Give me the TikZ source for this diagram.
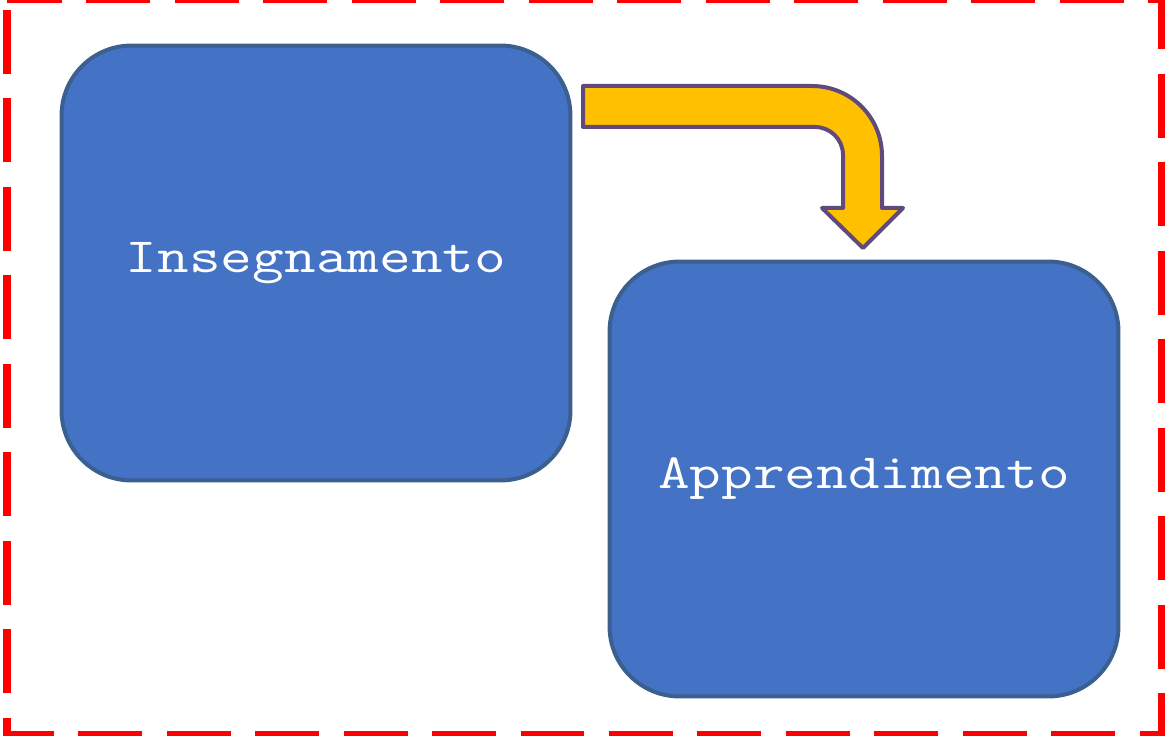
\documentclass[tikz,border=0pt]{standalone}
\usepackage{fontspec}
\usetikzlibrary{positioning, calc}

\definecolor{boxblue}{HTML}{4472C4}
\definecolor{boxline}{HTML}{3B5F8E}
\definecolor{arrowfill}{HTML}{FFC000}
\definecolor{arrowline}{HTML}{604A7B}

\newcommand{\widetext}[1]{\scalebox{1.25}[1]{#1}}

\begin{document}
\begin{tikzpicture}[
  x=0.02cm, y=-0.02cm,
  phase/.style={draw=boxline, fill=boxblue, line width=0.08cm, rounded corners=1.4cm,
                minimum width=10.18cm, minimum height=8.7cm,
                text=white, font=\ttfamily\fontsize{28}{34}\selectfont},
]
\useasboundingbox (0,0) rectangle (1165,736);

% outer frame
\draw[red, line width=0.16cm, dash pattern=on 1.28cm off 0.49cm, dash phase=0.18cm]
  (7,-1) -- (1162,-1) -- (1162,735) -- (7,735) -- cycle;

\node[phase] (ins) at (316,263) {\widetext{Insegnamento}};
\node[phase] (app) at (864,479) {\widetext{Apprendimento}};

% bent arrow from ins to app
\draw[arrowline, fill=arrowfill, line width=0.08cm, line join=round]
  (583,86) -- (812,86) .. controls (850.7,86) and (882,117.3) .. (882,156)
  -- (882,208) -- (903,208) -- (863,248) -- (822,208) -- (843,208)
  -- (843,155) .. controls (843,139.5) and (830.5,127) .. (815,127)
  -- (583,127) -- cycle;

\end{tikzpicture}
\end{document}
